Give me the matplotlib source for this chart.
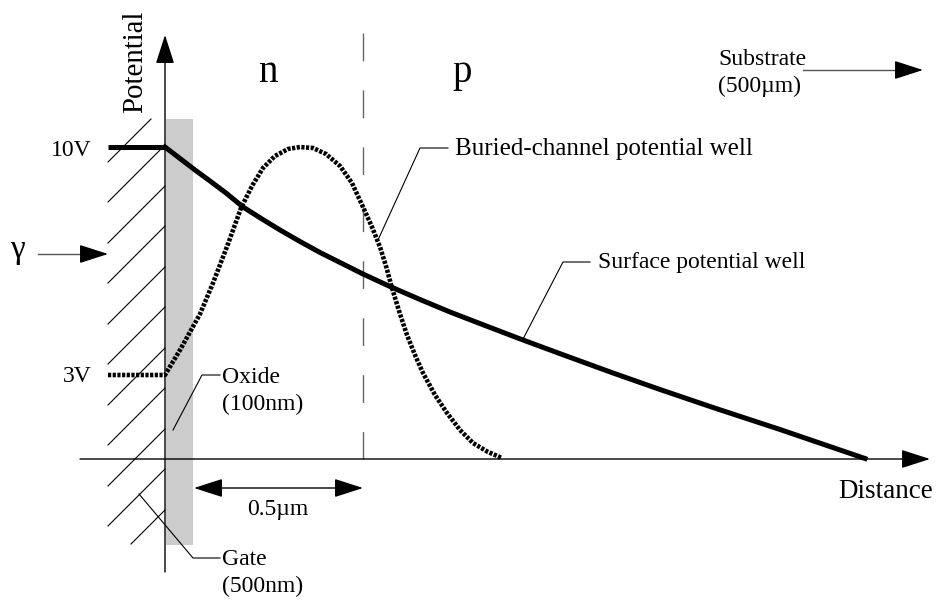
import matplotlib
matplotlib.use("Agg")
import matplotlib.pyplot as plt
from matplotlib.patches import Rectangle

plt.rcParams['font.family'] = ['Liberation Serif', 'DejaVu Serif']

# picture is drawn in pixel units (x right, y down)
surface_x = [165, 180, 195, 210, 226, 243, 262, 280, 300, 320, 341, 363, 390, 420,
             450, 485, 523, 565, 613, 660, 713, 780, 865]
surface_y = [147, 158.5, 170, 181, 193, 207, 219, 230, 241.5, 252.5, 263, 274, 286.5, 299.5,
             312, 325.5, 340, 355.5, 373, 389.5, 407.5, 429.5, 458.5]

buried_x = [165, 180, 200, 213, 228, 241, 252, 263, 275, 288, 300, 313, 326, 340, 352,
            363, 372, 380, 386, 392, 400, 407, 415, 423, 435, 447, 460, 473, 488, 502]
buried_y = [375, 350, 314, 283, 244, 208, 186, 168, 156, 149, 147, 148, 154, 166, 183,
            207, 227, 247, 266, 288, 314, 335, 355, 373, 395, 413, 430, 443, 452, 458]

level_10v = 147
level_3v = 375

hatch_left_y = [162, 202, 243, 283, 324, 364, 405, 445, 486, 526, 567]

fig = plt.figure(figsize=(9.4, 6.01), dpi=100)
ax = fig.add_axes([0, 0, 1, 1])
ax.set_xlim(0, 940)
ax.set_ylim(601, 0)
ax.axis('off')

# oxide strip
ax.add_patch(Rectangle((166, 119), 27, 426, facecolor='#cccccc', edgecolor='none', zorder=1))

# gate hatching, clipped to box x 108..165, y 119..544
x0, x1, ytop, ybot = 108, 165, 119, 544
for L in hatch_left_y:
    xa, ya = x0, L
    if ya > ybot:
        xa, ya = x0 + (L - ybot), ybot
    xb, yb = x1, L - (x1 - x0)
    if yb < ytop:
        xb, yb = x0 + (L - ytop), ytop
    if xa < xb:
        ax.plot([xa, xb], [ya, yb], color='k', lw=0.8, zorder=2)

def arrow(tail, tip, style='-|>', color='k', lw=1.0):
    ax.annotate('', xy=tip, xytext=tail,
                arrowprops=dict(arrowstyle=style + ',head_length=0.9,head_width=0.29',
                                mutation_scale=20, lw=lw, color=color,
                                shrinkA=0, shrinkB=0), zorder=3)

# axes
arrow((165, 572), (165, 35))
arrow((80, 459), (930, 459))
ax.plot([38, 86], [254, 254], color='#555555', lw=1.0, zorder=3)
arrow((84, 254), (108, 254))
ax.plot([803, 900], [70, 70], color='#555555', lw=1.0, zorder=3)
arrow((898, 70), (923, 70))
arrow((194, 488), (363, 488), style='<|-|>')

# n/p boundary
ax.plot([363, 363], [33, 459], color='#666666', lw=1.0, linestyle=(0, (20, 21)), zorder=2)

# potential curves
ax.plot([108, 165], [level_10v, level_10v], color='k', lw=3.6, solid_capstyle='butt', zorder=4)
ax.plot(surface_x, surface_y, color='k', lw=3.6, solid_joinstyle='round', zorder=4)
ax.plot([108] + buried_x, [level_3v] + buried_y, color='k', lw=3.3,
        linestyle=(0, (0.7, 0.32)), zorder=4)

# leaders
leaders = [
    [(378, 240), (420, 148), (448, 148)],
    [(522, 341), (563, 262), (590, 262)],
    [(173, 430), (202, 375), (220, 375)],
    [(139, 494), (193, 558), (220, 558)],
]
for pts in leaders:
    ax.plot([p[0] for p in pts], [p[1] for p in pts], color='k', lw=0.8, zorder=3)

fs = 17
ax.text(135, 62, 'Potential', rotation=90, fontsize=20.8, ha='center', va='center')
ax.text(268, 82, 'n', fontsize=28, ha='center', va='baseline')
ax.text(462, 82, 'p', fontsize=28, ha='center', va='baseline')
ax.text(92, 156, '10V', fontsize=fs, ha='right', va='baseline')
ax.text(92, 382, '3V', fontsize=fs, ha='right', va='baseline')
ax.text(17, 258, 'γ', fontsize=24, ha='center', va='baseline')
ax.text(718, 65, 'Substrate', fontsize=fs, ha='left', va='baseline')
ax.text(718, 92, '(500µm)', fontsize=fs, ha='left', va='baseline')
ax.text(455, 155, 'Buried-channel potential well', fontsize=18, ha='left', va='baseline')
ax.text(598, 268, 'Surface potential well', fontsize=fs, ha='left', va='baseline')
ax.text(222, 383, 'Oxide', fontsize=fs, ha='left', va='baseline')
ax.text(222, 410, '(100nm)', fontsize=fs, ha='left', va='baseline')
ax.text(222, 565, 'Gate', fontsize=fs, ha='left', va='baseline')
ax.text(222, 592, '(500nm)', fontsize=fs, ha='left', va='baseline')
ax.text(278, 515, '0.5µm', fontsize=fs, ha='center', va='baseline')
ax.text(933, 498, 'Distance', fontsize=19.5, ha='right', va='baseline')

fig.savefig('out.png', dpi=100)
